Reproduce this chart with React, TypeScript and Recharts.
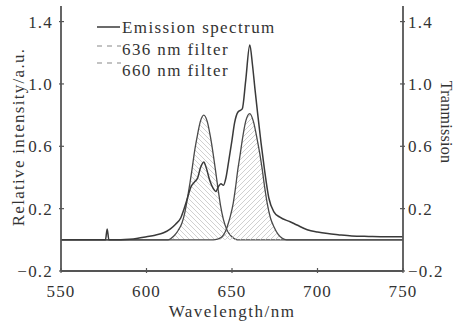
import React from 'react';
import { ComposedChart, Line, Area, XAxis, YAxis } from 'recharts';

const emissionWl = [550, 560, 570, 576, 577, 578, 585, 590, 595, 600, 605, 610, 614, 617, 620, 622, 624, 626, 628, 630, 631.5, 633.5, 635, 637, 639, 640.5, 642, 643.5, 645, 646.5, 648, 650, 651.5, 653.5, 656, 658, 660.4, 662, 663.5, 665, 667, 669, 671.5, 674.5, 678, 684, 688, 694, 700, 706, 712, 720, 730, 740, 750];
const emissionVal = [0, 0, 0, 0, 0.07, 0, 0, 0.003, 0.01, 0.02, 0.03, 0.045, 0.07, 0.1, 0.14, 0.2, 0.27, 0.34, 0.37, 0.4, 0.46, 0.5, 0.46, 0.38, 0.33, 0.31, 0.34, 0.36, 0.35, 0.4, 0.5, 0.64, 0.75, 0.82, 0.84, 1.02, 1.25, 1.12, 0.96, 0.81, 0.62, 0.45, 0.27, 0.18, 0.145, 0.116, 0.095, 0.065, 0.05, 0.04, 0.033, 0.025, 0.022, 0.02, 0.02];

const filter636Wl = [550, 610, 612.5, 616, 618.5, 620.8, 622.5, 624, 625.5, 626.6, 628, 629.6, 631.5, 633.5, 635.5, 637.4, 639, 640.3, 641.8, 643.3, 645, 647, 649, 651, 653, 750];
const filter636Val = [0, 0, 0, 0.025, 0.06, 0.11, 0.18, 0.27, 0.37, 0.45, 0.56, 0.66, 0.76, 0.8, 0.76, 0.66, 0.55, 0.45, 0.33, 0.22, 0.13, 0.065, 0.03, 0.01, 0, 0];

const filter660Wl = [550, 639, 641.5, 644.2, 646, 647.2, 649, 650.7, 652, 653.4, 654.8, 656, 658, 660.4, 662.5, 664.8, 666.3, 667.7, 669.2, 670.6, 672.5, 674.5, 677, 679.4, 682, 750];
const filter660Val = [0, 0, 0.005, 0.02, 0.05, 0.084, 0.15, 0.234, 0.33, 0.45, 0.55, 0.64, 0.76, 0.81, 0.76, 0.64, 0.55, 0.45, 0.33, 0.234, 0.14, 0.084, 0.035, 0.01, 0, 0];

const xTicks = [550, 600, 650, 700, 750];
const yTicks = [-0.2, 0.2, 0.6, 1.0, 1.4];

const legendLabels = ['Emission spectrum', '636 nm filter', '660 nm filter'];
const xTitle = 'Wavelength/nm';
const yTitleLeft = 'Relative intensity/a.u.';
const yTitleRight = 'Tranmission';

const emissionData = emissionWl.map((w, i) => ({ wl: w, v: emissionVal[i] }));
const f636Data = filter636Wl.map((w, i) => ({ wl: w, v: filter636Val[i] }));
const f660Data = filter660Wl.map((w, i) => ({ wl: w, v: filter660Val[i] }));

const FONT = '"Liberation Serif", "Times New Roman", serif';
const TXT = '#333';
const AX = '#555';

const fmtY = (v: number) => (v < 0 ? '\u2212' + Math.abs(v).toFixed(1) : v.toFixed(1));

const BottomTick = (props: any) => {
  const { x, y, payload } = props;
  return (
    <g>
      <line x1={x} y1={y} x2={x} y2={y - 5} stroke={AX} strokeWidth={1.2} />
      <text x={x} y={y + 24} textAnchor="middle" fontFamily={FONT} fontSize={17} letterSpacing={1.2} fill={TXT}>
        {payload.value}
      </text>
    </g>
  );
};

const LeftTick = (props: any) => {
  const { x, y, payload } = props;
  return (
    <g>
      <line x1={x} y1={y} x2={x + 5} y2={y} stroke={AX} strokeWidth={1.2} />
      <text x={x - 6} y={y} dy="0.35em" textAnchor="end" fontFamily={FONT} fontSize={17} letterSpacing={1.2} fill={TXT}>
        {fmtY(payload.value)}
      </text>
    </g>
  );
};

const RightTick = (props: any) => {
  const { x, y, payload } = props;
  return (
    <g>
      <line x1={x} y1={y} x2={x - 5} y2={y} stroke={AX} strokeWidth={1.2} />
      <text x={x + 3} y={y} dy="0.35em" textAnchor="start" fontFamily={FONT} fontSize={17} letterSpacing={1.2} fill={TXT}>
        {fmtY(payload.value)}
      </text>
    </g>
  );
};

export default function App() {
  return (
    <div style={{ position: 'absolute', left: 0, top: 0, background: '#fff' }}>
      <ComposedChart width={457} height={322} margin={{ top: 6, right: 0, bottom: 0, left: 0 }}>
        <defs>
          <pattern id="hatchBack" width="5" height="5" patternUnits="userSpaceOnUse">
            <line x1="-1" y1="-1" x2="6" y2="6" stroke="#c4c4c4" strokeWidth="0.8" />
          </pattern>
          <pattern id="hatchFwd" width="5" height="5" patternUnits="userSpaceOnUse">
            <line x1="-1" y1="6" x2="6" y2="-1" stroke="#c4c4c4" strokeWidth="0.8" />
          </pattern>
        </defs>
        <XAxis
          xAxisId="bottom"
          dataKey="wl"
          type="number"
          domain={[550, 750]}
          ticks={xTicks}
          allowDataOverflow
          orientation="bottom"
          height={51}
          axisLine={{ stroke: AX, strokeWidth: 1.8 }}
          tickLine={false}
          tickSize={0}
          tick={BottomTick}
          interval={0}
        />
        <XAxis
          xAxisId="top"
          dataKey="wl"
          type="number"
          domain={[550, 750]}
          orientation="top"
          height={0}
          axisLine={{ stroke: AX, strokeWidth: 1.8 }}
          tickLine={false}
          tick={false}
        />
        <YAxis
          yAxisId="left"
          type="number"
          domain={[-0.2, 1.5]}
          ticks={yTicks}
          allowDataOverflow
          width={61}
          axisLine={{ stroke: AX, strokeWidth: 1.8 }}
          tickLine={false}
          tickSize={0}
          tick={LeftTick}
          interval={0}
        />
        <YAxis
          yAxisId="right"
          orientation="right"
          type="number"
          domain={[-0.2, 1.5]}
          ticks={yTicks}
          allowDataOverflow
          width={54}
          axisLine={{ stroke: AX, strokeWidth: 1.8 }}
          tickLine={false}
          tickSize={0}
          tick={RightTick}
          interval={0}
        />
        <Area
          xAxisId="bottom"
          yAxisId="right"
          data={f636Data}
          dataKey="v"
          type="monotone"
          stroke="#4a4a4a"
          strokeWidth={1.3}
          fill="url(#hatchBack)"
          fillOpacity={1}
          baseValue={0}
          isAnimationActive={false}
          dot={false}
          activeDot={false}
        />
        <Area
          xAxisId="bottom"
          yAxisId="right"
          data={f660Data}
          dataKey="v"
          type="monotone"
          stroke="#4a4a4a"
          strokeWidth={1.3}
          fill="url(#hatchFwd)"
          fillOpacity={1}
          baseValue={0}
          isAnimationActive={false}
          dot={false}
          activeDot={false}
        />
        <Line
          xAxisId="bottom"
          yAxisId="left"
          data={emissionData}
          dataKey="v"
          type="monotone"
          stroke="#3a3a3a"
          strokeWidth={1.5}
          dot={false}
          activeDot={false}
          isAnimationActive={false}
        />
        <text x={18} y={137} transform="rotate(-90 18 137)" textAnchor="middle" dominantBaseline="central" fontFamily={FONT} fontSize={17} letterSpacing={1.3} fill={TXT}>
          {yTitleLeft}
        </text>
        <text x={446} y={122} transform="rotate(90 446 122)" textAnchor="middle" dominantBaseline="central" fontFamily={FONT} fontSize={16} letterSpacing={0.3} fill={TXT}>
          {yTitleRight}
        </text>
        <text x={232} y={317} textAnchor="middle" fontFamily={FONT} fontSize={17} letterSpacing={1.5} fill={TXT}>
          {xTitle}
        </text>
        <line x1={97} y1={27} x2={120} y2={27} stroke="#3a3a3a" strokeWidth={1.5} />
        <text x={122} y={33} fontFamily={FONT} fontSize={17} letterSpacing={1.4} fill={TXT}>{legendLabels[0]}</text>
        <line x1={97} y1={46} x2={121} y2={46} stroke="#888" strokeWidth={1.2} strokeDasharray="5 5" />
        <text x={122} y={55} fontFamily={FONT} fontSize={17} letterSpacing={1.4} fill={TXT}>{legendLabels[1]}</text>
        <line x1={97} y1={63} x2={121} y2={63} stroke="#888" strokeWidth={1.2} strokeDasharray="5 5" />
        <text x={122} y={76} fontFamily={FONT} fontSize={17} letterSpacing={1.4} fill={TXT}>{legendLabels[2]}</text>
      </ComposedChart>
    </div>
  );
}
